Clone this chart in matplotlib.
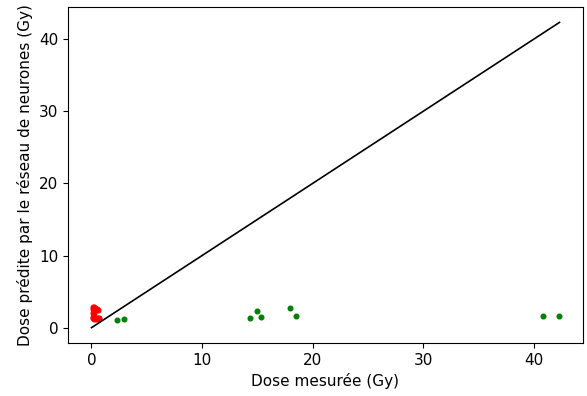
import matplotlib
matplotlib.use('Agg')
import matplotlib.pyplot as plt

plt.rcParams['font.size'] = 11

# Mesures vs predictions (Gy)
red_measured = [0.1, 0.15, 0.2, 0.25, 0.3, 0.35, 0.4, 0.45, 0.5, 0.55,
                0.15, 0.2, 0.1, 0.15, 0.25, 0.35, 0.45, 0.55, 0.65, 0.7]
red_predicted = [2.8, 2.6, 2.9, 2.5, 2.7, 2.6, 2.4, 2.5, 2.6, 2.4,
                 2.1, 1.8, 1.5, 1.3, 1.2, 1.3, 1.2, 1.4, 1.3, 1.2]

green_measured = [2.35, 2.9, 14.3, 15.0, 15.3, 17.9, 18.5, 40.8, 42.3]
green_predicted = [1.1, 1.25, 1.4, 2.35, 1.5, 2.75, 1.65, 1.65, 1.65]

line_max = max(green_measured)

fig, ax = plt.subplots(figsize=(5.87, 3.96), dpi=100)
fig.subplots_adjust(left=0.116, right=0.993, top=0.982, bottom=0.134)

ax.scatter(red_measured, red_predicted, color='red', s=11)
ax.scatter(green_measured, green_predicted, color='green', s=11)
ax.plot([0, line_max], [0, line_max], color='black', linewidth=1.2)

ax.set_xlabel('Dose mesurée (Gy)')
ax.set_ylabel('Dose prédite par le réseau de neurones (Gy)')

plt.savefig('out.png', dpi=100)
